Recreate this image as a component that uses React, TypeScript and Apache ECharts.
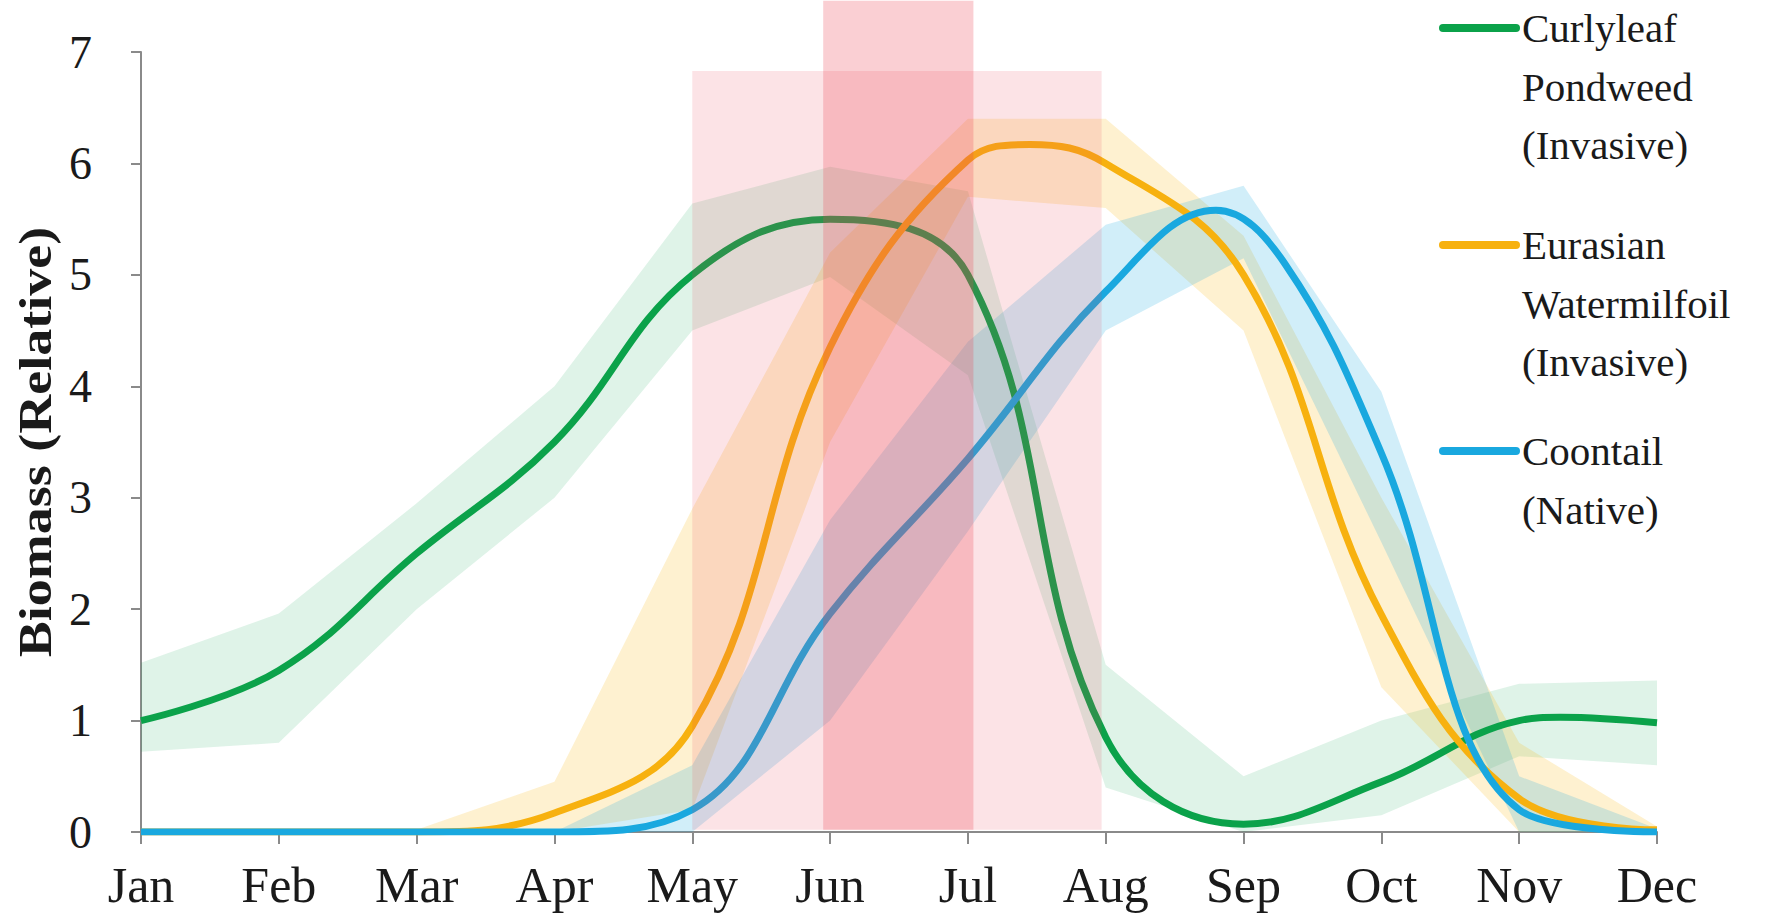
import React, { useEffect, useRef } from 'react';
import * as echarts from 'echarts';

const months = ['Jan', 'Feb', 'Mar', 'Apr', 'May', 'Jun', 'Jul', 'Aug', 'Sep', 'Oct', 'Nov', 'Dec'];
const yTicks = [0, 1, 2, 3, 4, 5, 6, 7];

// [month position, value] (0 = Jan ... 11 = Dec)
const curlyleaf = [[0, 1.0], [1, 1.45], [2, 2.5], [3, 3.5], [4, 5.0], [5, 5.5], [6, 5.0], [7, 0.85], [8, 0.07], [9, 0.45], [10, 1.0], [10.3, 1.03], [11, 0.98]];
const curlyleafUpper = [1.52, 1.96, 2.95, 4.0, 5.64, 5.97, 5.75, 1.5, 0.5, 1.0, 1.33, 1.36];
const curlyleafLower = [0.72, 0.8, 2.0, 3.0, 4.5, 4.98, 4.1, 0.4, 0.0, 0.15, 0.68, 0.6];

const eurasian = [[0, 0], [1, 0], [2, 0], [3, 0.17], [4, 0.95], [5, 4.35], [6, 6.03], [6.45, 6.17], [7, 6.0], [8, 5.0], [9, 1.95], [10, 0.3], [11, 0.02]];
const eurasianUpper = [0, 0, 0.02, 0.45, 2.9, 5.2, 6.4, 6.4, 5.35, 3.0, 0.8, 0.05];
const eurasianLower = [0, 0, 0, 0, 0.2, 3.5, 5.7, 5.6, 4.5, 1.3, 0, 0];

const coontail = [[0, 0], [1, 0], [2, 0], [3, 0], [4, 0.2], [5, 1.96], [6, 3.35], [7, 4.85], [7.8, 5.58], [8.3, 5.1], [9, 3.4], [10, 0.2], [11, 0]];
const coontailUpper = [0, 0, 0, 0, 0.6, 2.8, 4.4, 5.45, 5.8, 3.95, 0.5, 0.03];
const coontailLower = [0, 0, 0, 0, 0, 1.0, 2.7, 4.5, 5.15, 2.6, 0, 0];

// [monthStart, monthEnd, bottom, top]
const highlightWide = [4.0, 6.97, 0.02, 6.83];
const highlightNarrow = [4.95, 6.04, 0.02, 7.46];

const legendItems = [
  { lines: ['Curlyleaf', 'Pondweed', '(Invasive)'], color: '#0BA24A' },
  { lines: ['Eurasian', 'Watermilfoil', '(Invasive)'], color: '#F7B10F' },
  { lines: ['Coontail', '(Native)'], color: '#19A8DF' },
];

export default function App() {
  const ref = useRef<HTMLDivElement>(null);

  useEffect(() => {
    const chart = echarts.init(ref.current!, null, { renderer: 'svg' });
    const serif = 'Liberation Serif';

    const bandSeries = (key: string, lower: number[], upper: number[], color: string) => [
      {
        type: 'line', name: key + '-lo', data: lower, stack: key, symbol: 'none',
        lineStyle: { opacity: 0 }, silent: true, z: 1,
      },
      {
        type: 'line', name: key + '-band', data: upper.map((u, i) => +(u - lower[i]).toFixed(3)),
        stack: key, symbol: 'none', lineStyle: { opacity: 0 },
        areaStyle: { color, opacity: 1 }, silent: true, z: 1,
      },
    ];

    const mainLine = (name: string, data: number[][], color: string) => ({
      type: 'line', name, data, xAxisIndex: 1, smooth: 0.4, symbol: 'none',
      lineStyle: { color, width: 7 }, z: 2,
    });

    const legendGraphics: any[] = [];
    const legendTop = [28, 245, 451];
    const lineGap = 58.5;
    legendItems.forEach((item, k) => {
      const y0 = legendTop[k];
      legendGraphics.push({
        type: 'line', shape: { x1: 1443, y1: y0, x2: 1516, y2: y0 },
        style: { stroke: item.color, lineWidth: 8, lineCap: 'round' },
      });
      item.lines.forEach((t, j) => {
        legendGraphics.push({
          type: 'text', x: 1522, y: y0 + j * lineGap,
          style: {
            text: t, fontFamily: serif, fontSize: 41, fill: '#1a1a1a',
            textAlign: 'left', textVerticalAlign: 'middle',
          },
        });
      });
    });

    const rectColors = ['rgba(235,70,85,0.15)', 'rgba(235,70,85,0.26)'];

    chart.setOption({
      animation: false,
      backgroundColor: '#ffffff',
      grid: { left: 141, right: 133, top: 52, bottom: 87, containLabel: false },
      xAxis: [
        {
          type: 'category', data: months, boundaryGap: false,
          axisLine: { lineStyle: { color: '#8a8a8a', width: 2 } },
          axisTick: { show: true, length: 12, lineStyle: { color: '#8a8a8a', width: 2 } },
          axisLabel: { color: '#1a1a1a', fontFamily: serif, fontSize: 50, margin: 28 },
          splitLine: { show: false },
        },
        { type: 'value', min: 0, max: 11, show: false },
      ],
      yAxis: {
        type: 'value', min: yTicks[0], max: yTicks[yTicks.length - 1], interval: 1,
        axisLine: { show: true, lineStyle: { color: '#8a8a8a', width: 2 } },
        axisTick: { show: true, length: 10, lineStyle: { color: '#8a8a8a', width: 2 } },
        axisLabel: { color: '#1a1a1a', fontFamily: serif, fontSize: 46, margin: 49 },
        splitLine: { show: false },
      },
      series: [
        ...bandSeries('green', curlyleafLower, curlyleafUpper, 'rgba(11,162,74,0.13)'),
        ...bandSeries('orange', eurasianLower, eurasianUpper, 'rgba(250,185,20,0.2)'),
        ...bandSeries('blue', coontailLower, coontailUpper, 'rgba(25,168,223,0.2)'),
        mainLine('Curlyleaf Pondweed (Invasive)', curlyleaf, '#0BA24A'),
        mainLine('Eurasian Watermilfoil (Invasive)', eurasian, '#F7B10F'),
        mainLine('Coontail (Native)', coontail, '#19A8DF'),
        {
          type: 'custom', xAxisIndex: 1, yAxisIndex: 0, z: 3, silent: true,
          data: [highlightWide, highlightNarrow],
          encode: { x: [0, 1], y: [2, 3] },
          renderItem: (params: any, api: any) => {
            const p0 = api.coord([api.value(0), api.value(3)]);
            const p1 = api.coord([api.value(1), api.value(2)]);
            return {
              type: 'rect',
              shape: { x: p0[0], y: p0[1], width: p1[0] - p0[0], height: p1[1] - p0[1] },
              style: { fill: rectColors[params.dataIndex] },
            };
          },
        },
      ],
      graphic: [
        {
          type: 'text', x: 35, y: 442, rotation: Math.PI / 2, scaleX: 1.15,
          style: {
            text: 'Biomass (Relative)', fontFamily: serif, fontWeight: 'bold', fontSize: 47,
            fill: '#1a1a1a', textAlign: 'center', textVerticalAlign: 'middle',
          },
        },
        ...legendGraphics,
      ],
    });

    return () => chart.dispose();
  }, []);

  return <div ref={ref} style={{ position: 'fixed', left: 0, top: 0, width: 1790, height: 919 }} />;
}
